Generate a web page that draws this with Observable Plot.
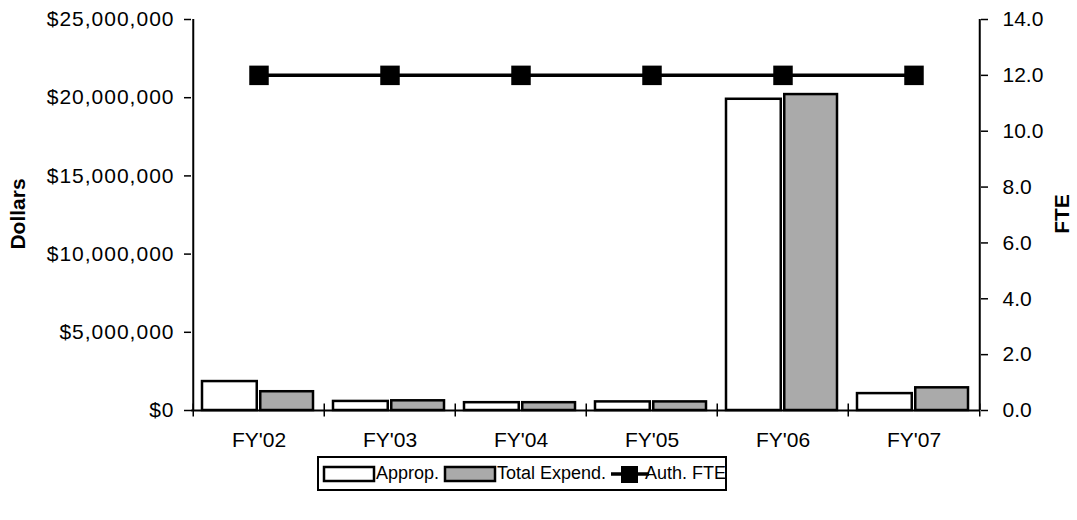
<!DOCTYPE html>
<html><head><meta charset="utf-8">
<script src="https://cdn.jsdelivr.net/npm/d3@7"></script>
<script src="https://cdn.jsdelivr.net/npm/@observablehq/plot@0.6"></script>
<style>
body{margin:0;background:#fff;font-family:"Liberation Sans",Arial,sans-serif;}
#wrap{position:relative;width:1077px;height:520px;overflow:hidden;}
#chart{position:absolute;left:0;top:0;}
.ylab{position:absolute;font-weight:bold;font-size:21px;transform:translate(-50%,-50%) rotate(-90deg);white-space:nowrap;}
#legend{position:absolute;left:317px;top:456px;width:410px;height:35px;border:2px solid #000;box-sizing:border-box;font-size:18px;}
#legend span{position:absolute;top:5px;white-space:nowrap;}
#legend svg{position:absolute;top:1px;}
#chart svg text{font-size:21px;}
.leftaxis text{letter-spacing:1px;}
</style></head>
<body><div id="wrap"><div id="chart"></div>
<div class="ylab" style="left:18px;top:214px;">Dollars</div>
<div class="ylab" style="left:1062px;top:214px;">FTE</div>
<div id="legend"></div>
</div>
<script>
const years = ["FY'02", "FY'03", "FY'04", "FY'05", "FY'06", "FY'07"];
const approp = [1850000, 580000, 500000, 550000, 19900000, 1080000];
const expend = [1200000, 620000, 500000, 550000, 20200000, 1450000];
const fte = [12, 12, 12, 12, 12, 12];
const dollarTicks = [0, 5000000, 10000000, 15000000, 20000000, 25000000];
const fteTicks = [0, 2, 4, 6, 8, 10, 12, 14];
const seriesNames = ["Approp.", "Total Expend.", "Auth. FTE"];

const W = 1077, ML = 191, MR = 97;
const bw = (W - ML - MR) / years.length;
const k = 25000000 / 14;
const grayFill = "#aaaaaa";

const data = years.map((y, i) => ({year: y, approp: approp[i], expend: expend[i], fte: fte[i]}));
const fmt = d3.format(",");

const chart = Plot.plot({
  width: W, height: 450,
  marginLeft: ML, marginRight: MR, marginTop: 19, marginBottom: 40,
  style: {fontFamily: "'Liberation Sans', Arial, sans-serif", fontSize: "21px", background: "#fff", color: "#000"},
  x: {domain: years, padding: 0, axis: null},
  y: {domain: [0, 25000000], axis: null},
  marks: [
    Plot.barY(data, {x: "year", y: "approp", fill: "white", stroke: "black", strokeWidth: 2.5, insetLeft: 9, insetRight: bw / 2 + 1.5}),
    Plot.barY(data, {x: "year", y: "expend", fill: grayFill, stroke: "black", strokeWidth: 2.5, insetLeft: bw / 2 + 1.5, insetRight: 11}),
    Plot.ruleY([0], {stroke: "black", strokeWidth: 2}),
    Plot.ruleX([years[0]], {dx: -bw / 2, y1: 0, y2: 25000000, stroke: "black", strokeWidth: 2}),
    Plot.ruleX([years[years.length - 1]], {dx: bw / 2, y1: 0, y2: 25000000, stroke: "black", strokeWidth: 2}),
    Plot.ruleX(years, {dx: -bw / 2, y1: -420000, y2: 420000, stroke: "black", strokeWidth: 1.5}),
    Plot.ruleX([years[years.length - 1]], {dx: bw / 2, y1: -420000, y2: 420000, stroke: "black", strokeWidth: 1.5}),
    Plot.axisY({anchor: "left", ticks: dollarTicks, tickFormat: d => "$" + fmt(d), tickSize: 7, tickPadding: 10, fontSize: 21, label: null, strokeWidth: 1.5, className: "leftaxis"}),
    Plot.axisY({anchor: "right", ticks: fteTicks.map(v => v * k), tickFormat: d => (d / k).toFixed(1), tickSize: 7, tickPadding: 15, fontSize: 21, label: null, strokeWidth: 1.5}),
    Plot.axisX({tickSize: 0, tickPadding: 22, fontSize: 21, label: null}),
    Plot.lineY(data, {x: "year", y: d => d.fte * k, stroke: "black", strokeWidth: 3.5}),
    Plot.dot(data, {x: "year", y: d => d.fte * k, symbol: "square", r: 11, fill: "black", stroke: "none"})
  ]
});
document.getElementById("chart").appendChild(chart);

const leg = document.getElementById("legend");
leg.innerHTML =
  `<svg style="left:3px" width="54" height="30"><rect x="2" y="8" width="50" height="14" fill="white" stroke="black" stroke-width="2.5"/></svg>` +
  `<span style="left:57px">${seriesNames[0]}</span>` +
  `<svg style="left:124px" width="54" height="30"><rect x="2" y="8" width="50" height="14" fill="${grayFill}" stroke="black" stroke-width="2.5"/></svg>` +
  `<span style="left:178px">${seriesNames[1]}</span>` +
  `<svg style="left:290px" width="42" height="30"><line x1="2" y1="15" x2="40" y2="15" stroke="black" stroke-width="3.5"/><rect x="12" y="7" width="17" height="17" fill="black"/></svg>` +
  `<span style="left:326px">${seriesNames[2]}</span>`;
</script>
</body></html>
